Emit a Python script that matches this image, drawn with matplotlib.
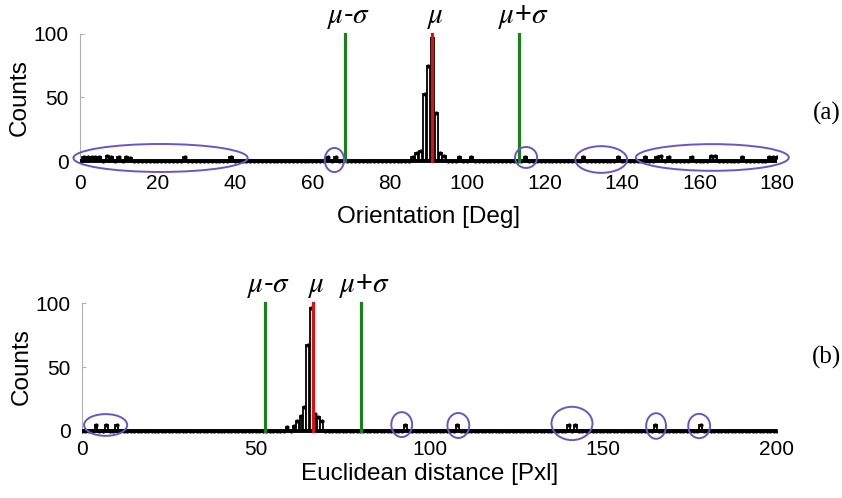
import numpy as np
import matplotlib.pyplot as plt
from matplotlib.patches import Ellipse

plt.rcParams['font.family'] = ['Liberation Sans', 'DejaVu Sans']
plt.rcParams['mathtext.fontset'] = 'stix'

# (a) orientation histogram, 1 deg bins
bins_a = np.arange(0, 181)
counts_a = np.zeros(181)
nz_a = {1: 3, 2: 3, 3: 3, 4: 3, 5: 3, 7: 4, 8: 3, 10: 3, 12: 3, 13: 2,
        27: 3, 39: 3, 64: 3, 66: 3,
        86: 3, 87: 6, 88: 8, 89: 53, 90: 75, 91: 97, 92: 38, 93: 6, 94: 4,
        98: 3, 101: 3, 115: 3, 130: 3, 139: 3, 146: 3, 149: 3, 150: 4,
        152: 3, 158: 3, 163: 4, 164: 4, 171: 3, 178: 3, 179: 3, 180: 3}
for k, v in nz_a.items():
    counts_a[k] = v
mu_a, sig_a = 91.0, 22.5
ell_a_x = [20.8, 65.7, 115.2, 134.6, 163.3]
ell_a_y = [2.4, 0.8, 2.8, 1.2, 2.8]
ell_a_w = [45, 5, 5.7, 13.4, 39.5]
ell_a_h = [22, 19, 16.5, 21, 21]

# (b) euclidean distance histogram
bins_b = np.arange(0, 201)
counts_b = np.zeros(201)
nz_b = {4: 5, 7: 5, 10: 5, 59: 3, 61: 4, 62: 8, 63: 12, 64: 19, 65: 67,
        66: 96, 67: 13, 68: 11, 69: 8, 93: 5, 108: 5, 140: 5, 142: 5,
        165: 5, 178: 5}
for k, v in nz_b.items():
    counts_b[k] = v
mu_b, sig_b = 66.5, 13.9
ell_b_x = [6.8, 92, 108.3, 141, 165.2, 177.6]
ell_b_y = [4.7, 5, 4.3, 5.9, 3.9, 3.9]
ell_b_w = [12.4, 6, 6.3, 11.8, 5.7, 6.3]
ell_b_h = [17, 19.5, 19.5, 26, 20, 19]

fig = plt.figure(figsize=(8.42, 4.98), dpi=100)
ax_a = fig.add_axes([0.0950, 0.6639, 0.8278, 0.2807])
ax_b = fig.add_axes([0.0974, 0.1217, 0.8254, 0.2827])

panels = [
    (ax_a, bins_a, counts_a, mu_a, sig_a, (0, 180), np.arange(0, 181, 20),
     'Orientation [Deg]', (ell_a_x, ell_a_y, ell_a_w, ell_a_h), '(a)', 0.773, 5, 9),
    (ax_b, bins_b, counts_b, mu_b, sig_b, (0, 200), np.arange(0, 201, 50),
     'Euclidean distance [Pxl]', (ell_b_x, ell_b_y, ell_b_w, ell_b_h), '(b)', 0.283, 2, 3),
]

for ax, x, c, mu, sig, xl, xt, xlab, ells, tag, ty, tpad, lpad in panels:
    ax.bar(x, c, width=0.8, facecolor='white', edgecolor='black', linewidth=1.3, zorder=2)
    ax.plot([x[0] - 0.5, x[-1] + 0.5], [0, 0], color='black', lw=2.8, zorder=3)
    ax.plot(x, c, 'k.', ms=4, zorder=4)
    ax.plot([mu, mu], [0, 100], color='#e01010', lw=2.3, zorder=5)
    for xv in (mu - sig, mu + sig):
        ax.plot([xv, xv], [0, 100], color='#1a801a', lw=2.3, zorder=5)
    ax.text(mu - sig + 1, 102, r'$\mu$-$\sigma$', ha='center', va='bottom', fontsize=21)
    ax.text(mu + 0.9, 102, r'$\mu$', ha='center', va='bottom', fontsize=21)
    ax.text(mu + sig + 1, 102, r'$\mu$+$\sigma$', ha='center', va='bottom', fontsize=21)
    for ex, ey, ew, eh in zip(*ells):
        ax.add_patch(Ellipse((ex, ey), ew, eh, fill=False, edgecolor='#6a55c8',
                             lw=1.4, clip_on=False, zorder=6))
    ax.set_xlim(*xl)
    ax.set_ylim(-5, 105)
    ax.set_xticks(xt)
    ax.set_yticks([0, 50, 100])
    for s in ['top', 'right', 'bottom']:
        ax.spines[s].set_visible(False)
    ax.spines['left'].set_bounds(0, 100)
    ax.spines['left'].set_color('#b0b0b0')
    ax.spines['left'].set_linewidth(0.8)
    ax.tick_params(axis='both', direction='in', length=3, color='#b0b0b0',
                   labelsize=15, pad=8)
    ax.tick_params(axis='x', length=0, pad=tpad)
    ax.set_xlabel(xlab, fontsize=17.5, labelpad=lpad)
    ax.set_ylabel('Counts', fontsize=17.5, labelpad=2)
    fig.text(0.982, ty, tag, ha='center', va='center', fontsize=18,
             family='Liberation Serif')

fig.savefig('out.png', dpi=100)
